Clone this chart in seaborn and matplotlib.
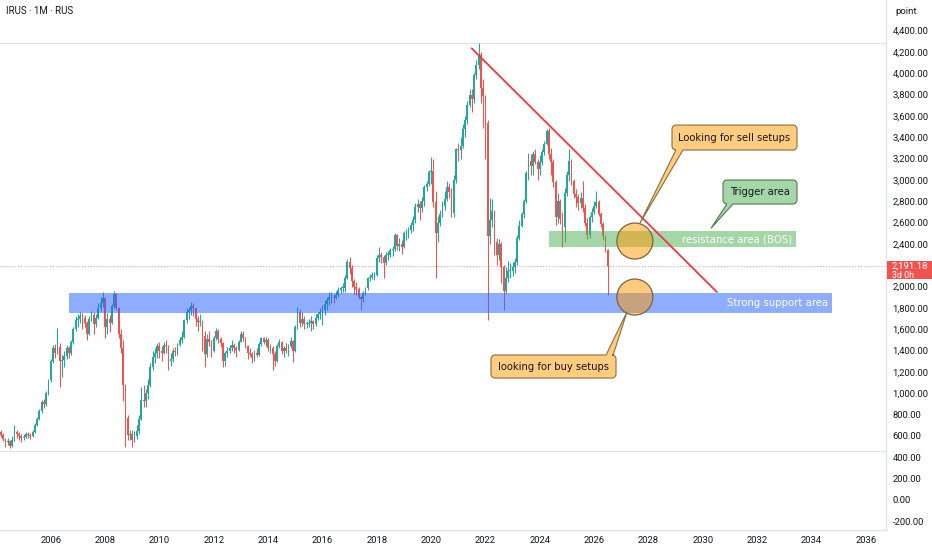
import numpy as np
import pandas as pd
import matplotlib
matplotlib.use("Agg")
import matplotlib.pyplot as plt
import seaborn as sns
from matplotlib.patches import Rectangle, Ellipse, Polygon
from matplotlib.transforms import IdentityTransform

# ---------------- data (monthly candles, Jan 2004 .. Jul 2026) ----------------
first_open = 600
closes = [
    620, 640, 610, 570, 540, 555, 510, 560, 640, 620, 600, 580,            # 2004
    590, 620, 610, 600, 640, 700, 760, 830, 920, 900, 1000, 1120,          # 2005
    1300, 1420, 1380, 1430, 1300, 1310, 1350, 1420, 1380, 1480, 1600, 1690,  # 2006
    1700, 1720, 1710, 1660, 1560, 1700, 1730, 1650, 1710, 1800, 1850, 1890,  # 2007
    1620, 1700, 1660, 1820, 1930, 1800, 1560, 1420, 1080, 770, 610, 620,     # 2008
    560, 600, 650, 760, 940, 930, 1000, 1080, 1250, 1340, 1380, 1440,        # 2009
    1400, 1380, 1450, 1440, 1300, 1320, 1400, 1390, 1450, 1500, 1530, 1690,  # 2010
    1760, 1780, 1820, 1800, 1700, 1670, 1680, 1540, 1370, 1510, 1480, 1400,  # 2011
    1520, 1580, 1510, 1470, 1300, 1380, 1400, 1420, 1450, 1420, 1410, 1480,  # 2012
    1560, 1520, 1440, 1380, 1370, 1330, 1380, 1360, 1460, 1520, 1480, 1500,  # 2013
    1420, 1420, 1370, 1300, 1440, 1480, 1400, 1420, 1400, 1440, 1490, 1400,  # 2014
    1620, 1760, 1660, 1700, 1650, 1650, 1660, 1680, 1650, 1710, 1740, 1760,  # 2015
    1780, 1840, 1870, 1900, 1900, 1890, 1920, 1970, 1990, 1990, 2080, 2230,  # 2016
    2170, 2050, 2000, 1980, 1900, 1880, 1940, 1990, 2080, 2090, 2110, 2110,  # 2017
    2270, 2300, 2280, 2220, 2300, 2300, 2340, 2350, 2480, 2380, 2400, 2370,  # 2018
    2500, 2500, 2530, 2580, 2620, 2750, 2770, 2740, 2800, 2930, 2960, 3070,  # 2019
    3080, 2790, 2500, 2600, 2680, 2760, 2820, 2930, 2890, 2690, 3000, 3290,  # 2020
    3280, 3320, 3480, 3560, 3700, 3800, 3760, 3980, 4080, 4170, 3860, 3790,  # 2021
    3530, 2470, 2620, 2710, 2420, 2300, 2400, 2180, 1960, 2080, 2150, 2150,  # 2022
    2180, 2230, 2460, 2570, 2680, 2800, 3060, 3180, 3130, 3240, 3170, 3100,  # 2023
    3170, 3260, 3340, 3460, 3240, 3170, 2980, 2650, 2800, 2630, 2560, 2880,  # 2024
    3050, 3180, 2990, 2870, 2840, 2780, 2830, 2740, 2600, 2480, 2650, 2700,  # 2025
    2760, 2790, 2680, 2590, 2470, 2340, 2191.18,                             # 2026
]
highs = [
    650, 670, 660, 630, 580, 580, 560, 600, 705, 660, 640, 620,
    620, 640, 640, 630, 660, 720, 780, 850, 940, 950, 1020, 1130,
    1320, 1450, 1460, 1610, 1470, 1360, 1400, 1450, 1440, 1500, 1620, 1720,
    1740, 1760, 1750, 1730, 1680, 1720, 1770, 1760, 1740, 1850, 1900, 1950,
    1900, 1750, 1730, 1840, 1960, 1940, 1810, 1600, 1500, 1090, 800, 660,
    660, 650, 700, 800, 1060, 1080, 1040, 1130, 1280, 1400, 1420, 1470,
    1480, 1440, 1480, 1500, 1450, 1380, 1420, 1430, 1470, 1530, 1580, 1700,
    1800, 1810, 1860, 1850, 1800, 1720, 1740, 1690, 1580, 1560, 1580, 1500,
    1540, 1610, 1600, 1530, 1480, 1400, 1430, 1450, 1500, 1470, 1440, 1500,
    1580, 1580, 1530, 1450, 1420, 1390, 1410, 1420, 1480, 1530, 1530, 1530,
    1520, 1460, 1440, 1400, 1460, 1510, 1490, 1440, 1470, 1460, 1530, 1500,
    1640, 1810, 1790, 1760, 1720, 1680, 1700, 1720, 1690, 1740, 1760, 1800,
    1830, 1870, 1900, 1950, 1950, 1930, 1960, 2000, 2010, 2030, 2110, 2260,
    2280, 2200, 2070, 2040, 2000, 1910, 1960, 2000, 2090, 2120, 2140, 2140,
    2300, 2370, 2320, 2300, 2320, 2330, 2360, 2380, 2500, 2490, 2460, 2440,
    2520, 2540, 2560, 2610, 2660, 2780, 2820, 2800, 2840, 2950, 2990, 3090,
    3210, 3200, 2900, 2660, 2720, 2800, 2900, 2990, 2970, 2920, 3050, 3300,
    3350, 3400, 3520, 3600, 3740, 3850, 3850, 4000, 4120, 4285, 4200, 3950,
    3800, 3560, 2830, 2820, 2720, 2460, 2450, 2420, 2200, 2180, 2240, 2220,
    2230, 2270, 2480, 2620, 2700, 2820, 3080, 3250, 3240, 3270, 3290, 3200,
    3230, 3290, 3360, 3480, 3490, 3300, 3200, 3000, 2880, 2820, 2700, 2920,
    3080, 3290, 3200, 3010, 2910, 2870, 2890, 2994, 2770, 2640, 2670, 2740,
    2800, 2900, 2810, 2700, 2610, 2480, 2350,
]
lows = [
    580, 600, 590, 550, 500, 520, 490, 500, 550, 580, 560, 545,
    560, 580, 585, 570, 590, 630, 690, 750, 820, 860, 880, 980,
    1110, 1280, 1330, 1370, 1060, 1150, 1250, 1320, 1330, 1360, 1460, 1580,
    1620, 1660, 1600, 1620, 1500, 1550, 1680, 1560, 1620, 1700, 1770, 1810,
    1520, 1560, 1570, 1650, 1800, 1780, 1520, 1380, 930, 500, 560, 560,
    500, 540, 570, 620, 750, 870, 870, 950, 1060, 1220, 1280, 1330,
    1330, 1300, 1370, 1380, 1220, 1260, 1290, 1350, 1360, 1440, 1470, 1520,
    1660, 1700, 1730, 1720, 1630, 1580, 1630, 1400, 1250, 1340, 1440, 1340,
    1390, 1500, 1470, 1430, 1250, 1260, 1340, 1380, 1400, 1380, 1340, 1400,
    1480, 1490, 1420, 1320, 1350, 1280, 1300, 1340, 1350, 1440, 1460, 1440,
    1400, 1380, 1220, 1260, 1290, 1420, 1370, 1340, 1380, 1350, 1420, 1290,
    1390, 1600, 1620, 1630, 1600, 1610, 1620, 1580, 1600, 1630, 1690, 1700,
    1640, 1730, 1780, 1830, 1850, 1850, 1880, 1900, 1940, 1950, 1950, 2070,
    2120, 2000, 1930, 1920, 1880, 1780, 1860, 1920, 1970, 2050, 2070, 2060,
    2100, 2230, 2220, 2080, 2200, 2250, 2280, 2290, 2330, 2340, 2330, 2310,
    2360, 2440, 2460, 2500, 2520, 2600, 2700, 2620, 2700, 2760, 2900, 2940,
    2960, 2750, 2080, 2420, 2570, 2650, 2720, 2800, 2830, 2650, 2650, 2970,
    3180, 3200, 3300, 3400, 3520, 3680, 3640, 3720, 3950, 4040, 3720, 3490,
    3200, 1686, 2400, 2560, 2300, 2200, 2250, 2030, 1780, 1940, 2040, 2080,
    2100, 2130, 2200, 2440, 2560, 2640, 2780, 3000, 3050, 3050, 3150, 3000,
    3050, 3140, 3230, 3330, 3200, 3050, 2930, 2580, 2600, 2590, 2370, 2420,
    2850, 2990, 2950, 2830, 2750, 2720, 2740, 2700, 2570, 2450, 2460, 2610,
    2680, 2740, 2660, 2560, 2440, 2320, 1920,
]

year_ticks = list(range(2006, 2037, 2))
price_ticks = list(range(-200, 4401, 200))

# drawings (time in fractional years, price in points)
trend_t = [2021.495, 2030.52]
trend_v = [4233, 1949]
support_zone = [2006.67, 2034.76, 1753, 1940]
resistance_zone = [2024.34, 2033.43, 2371, 2521]
circle_t = 2027.5
circle_v = [2427, 1902]
range_lines = [4285, 462]

sell_box = [2028.867, 2033.468, 3280, 3514]
sell_base = [2029.01, 2029.27]
sell_tip = [2027.69, 2596]
trigger_box = [2030.744, 2033.468, 2774, 2999]
trigger_base = [2030.89, 2031.11]
trigger_tip = [2030.30, 2546]
buy_box = [2022.205, 2026.806, 1143, 1359]
buy_base = [2026.44, 2026.70]
buy_tip = [2027.21, 1762]

# ---------------- style ----------------
sns.set_theme(style="white")
plt.rcParams["font.family"] = ["Roboto", "DejaVu Sans"]
TXT = "#131722"
UP = "#26a69a"
DN = "#ef5350"

n = len(closes)
dates = pd.date_range("2004-01-01", periods=n, freq="MS")
t = np.asarray(dates.year + (dates.month - 1) / 12.0, dtype=float)
opens = [first_open] + closes[:-1]
df = pd.DataFrame({"t": t, "open": opens, "close": closes, "high": highs, "low": lows})
df["up"] = df["close"] >= df["open"]

W, H = 932, 550
fig = plt.figure(figsize=(W / 100, H / 100), dpi=100)
fig.patch.set_facecolor("white")
ax = fig.add_axes([0, 20 / H, 886 / W, 530 / H])
ax.set_facecolor("white")
ax.set_xlim(2004.134, 2036.743)
ax.set_ylim(-281.2, 4686)

px_per_year = 886 / (2036.743 - 2004.134)
px_per_pt = 530 / (4686 + 281.2)

# candles
colors = np.where(df["up"], UP, DN)
ax.vlines(df["t"], df["low"], df["high"], colors=colors, linewidth=0.75, zorder=2)
body_bottom = np.minimum(df["open"], df["close"])
body_h = np.maximum(np.abs(df["close"] - df["open"]), 5)
ax.bar(df["t"], body_h, bottom=body_bottom, width=0.066, color=colors,
       linewidth=0, zorder=3)

# reference lines
for v in range_lines:
    ax.axhline(v, color="#e0e3eb", lw=0.8, zorder=1)
last_close = closes[-1]
ax.axhline(last_close, color=DN, lw=0.7, ls=(0, (1, 2)), alpha=0.6, zorder=1)

# zones
ax.add_patch(Rectangle((support_zone[0], support_zone[2]),
                       support_zone[1] - support_zone[0], support_zone[3] - support_zone[2],
                       facecolor="#2962ff", alpha=0.52, lw=0, zorder=4))
ax.add_patch(Rectangle((resistance_zone[0], resistance_zone[2]),
                       resistance_zone[1] - resistance_zone[0],
                       resistance_zone[3] - resistance_zone[2],
                       facecolor="#4caf50", alpha=0.5, lw=0, zorder=4))
ax.text(support_zone[1] - 4 / px_per_year, (support_zone[2] + support_zone[3]) / 2,
        "Strong support area", color="white", ha="right", va="center",
        fontsize=7.3, family="DejaVu Sans", zorder=5)
ax.text(resistance_zone[1] - 3.5 / px_per_year, (resistance_zone[2] + resistance_zone[3]) / 2,
        "resistance area (BOS)", color="white", ha="right", va="center",
        fontsize=7.3, family="DejaVu Sans", zorder=5)

# trend line
sns.lineplot(x=trend_t, y=trend_v, ax=ax, color="#f23645", lw=1.3, zorder=5)

# circles
for cv in circle_v:
    ax.add_patch(Ellipse((circle_t, cv), width=2 * 18 / px_per_year, height=2 * 18 / px_per_pt,
                         facecolor=(1.0, 0.596, 0.0, 0.5), edgecolor="#7a6340", lw=0.9, zorder=6))


def callout(box, side, base, tip, text, fc, ec):
    t0, t1, v0, v1 = box
    T = ax.transData
    x0, y0 = T.transform((t0, v0))
    x1, y1 = T.transform((t1, v1))
    xa = T.transform((base[0], v0))[0]
    xb = T.transform((base[1], v0))[0]
    tx, ty = T.transform((tip[0], tip[1]))
    r = 4.0

    def arc(cx, cy, a0, a1):
        a = np.radians(np.linspace(a0, a1, 8))
        return list(zip(cx + r * np.cos(a), cy + r * np.sin(a)))

    pts = [(x0 + r, y1)]
    if side == "top":
        pts += [(xa, y1), (tx, ty), (xb, y1)]
    pts += [(x1 - r, y1)]
    pts += arc(x1 - r, y1 - r, 90, 0)
    pts += arc(x1 - r, y0 + r, 0, -90)
    if side == "bottom":
        pts += [(xb, y0), (tx, ty), (xa, y0)]
    pts += arc(x0 + r, y0 + r, -90, -180)
    pts += arc(x0 + r, y1 - r, 180, 90)
    fig.add_artist(Polygon(pts, closed=True, transform=IdentityTransform(),
                           facecolor=fc, edgecolor=ec, lw=0.8, zorder=8))
    fig.text((x0 + x1) / 2, (y0 + y1) / 2, text, transform=IdentityTransform(),
             ha="center", va="center", fontsize=7.2, family="DejaVu Sans",
             color=TXT, zorder=9)


callout(sell_box, "bottom", sell_base, sell_tip, "Looking for sell setups", "#ffcc80", "#8a6d3b")
callout(trigger_box, "bottom", trigger_base, trigger_tip, "Trigger area", "#a5d6a7", "#4e7d50")
callout(buy_box, "top", buy_base, buy_tip, "looking for buy setups", "#ffcc80", "#8a6d3b")

# axes
ax.grid(False)
ax.yaxis.tick_right()
ax.set_yticks(price_ticks)
ax.set_yticklabels(["" if abs(v - last_close) < 120 else f"{v:,.2f}" for v in price_ticks])
ax.set_xticks(year_ticks)
ax.set_xticklabels([str(y) for y in year_ticks])
ax.tick_params(axis="y", length=0, pad=4.8, labelsize=6.8, labelcolor=TXT)
ax.tick_params(axis="x", length=0, pad=4.2, labelsize=6.8, labelcolor=TXT)
ax.set_xlabel("")
ax.set_ylabel("")
for s in ["left", "top"]:
    ax.spines[s].set_visible(False)
for s in ["bottom", "right"]:
    ax.spines[s].set_visible(True)
    ax.spines[s].set_color("#e0e3eb")
    ax.spines[s].set_linewidth(1.0)
if ax.get_legend() is not None:
    ax.get_legend().remove()

# last price tag
yd = ax.transData.transform((2030, last_close))[1]
fig.add_artist(Rectangle((887, yd - 13), 45, 18, transform=IdentityTransform(),
                         facecolor=DN, edgecolor="none", zorder=10))
fig.text(891.5, yd, f"{last_close:,.2f}", transform=IdentityTransform(), color="white",
         fontsize=6.8, ha="left", va="center", zorder=11)
fig.text(891.5, yd - 9, "3d 0h", transform=IdentityTransform(), color="white",
         fontsize=6.4, ha="left", va="center", zorder=11)

fig.text(895 / W, 1 - 11 / H, "point", fontsize=6.8, color=TXT, ha="left", va="center")
fig.text(6 / W, 1 - 11 / H, "IRUS · 1M · RUS", fontsize=7, color=TXT, ha="left", va="center")

fig.savefig("out.png", dpi=100, facecolor="white")
